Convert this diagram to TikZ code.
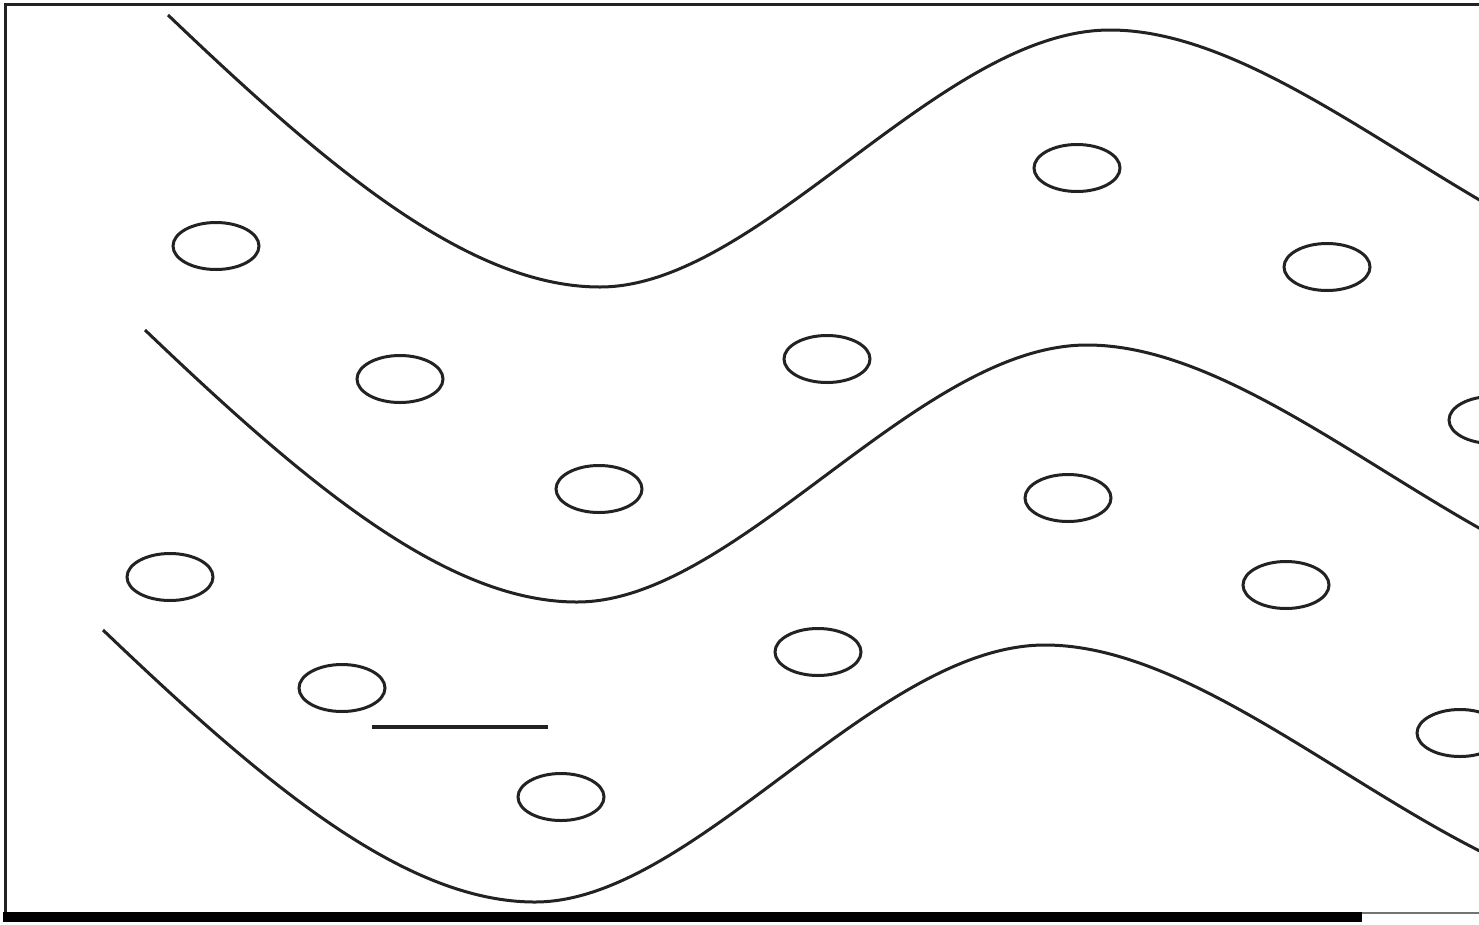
\documentclass[tikz,border=0pt]{standalone}
\usetikzlibrary{shapes.geometric}
\definecolor{ink}{HTML}{222222}
\tikzset{
  wave/.style={draw=ink, line width=3pt},
  hole/.style={draw=ink, line width=3pt, ellipse, inner sep=0pt, minimum width=86pt, minimum height=47pt},
  frameline/.style={draw=ink, line width=3pt},
}
\begin{document}
\begin{tikzpicture}[x=1pt,y=-1pt]
\useasboundingbox (0,0) rectangle (1479,924);
\fill[white] (0,0) rectangle (1479,924);
\begin{scope}
\clip (0,0) rectangle (1479,924);
% frame
\draw[frameline] (5,913) -- (5,4) -- (1485,4);
\draw[draw=black!55, line width=1.5pt] (5,913) -- (1485,913);
\fill[black] (3,912) rectangle (1362,922);
% waves
\foreach \dx/\dy in {0/0, -23/315, -65/615}{
  \draw[wave, shift={(\dx,\dy)}] (168,15)
    .. controls (330,170) and (470,287) .. (600,287)
    .. controls (760,287) and (940,30) .. (1110,30)
    .. controls (1300,30) and (1520,287) .. (1720,287);
}
% holes
\node[hole] (e1) at (216,246) {};
\node[hole] (e2) at (400,379) {};
\node[hole] (e3) at (599,489) {};
\node[hole] (e4) at (827,359) {};
\node[hole] (e5) at (1077,168) {};
\node[hole] (e6) at (1327,267) {};
\node[hole] (e7) at (1492,420) {};
\node[hole] (e8) at (1068,498) {};
\node[hole] (e9) at (1286,585) {};
\node[hole] (e10) at (170,577) {};
\node[hole] (e11) at (342,688) {};
\node[hole] (e12) at (818,652) {};
\node[hole] (e13) at (561,797) {};
\node[hole] (e14) at (1460,733) {};
% short line
\coordinate (l1) at (372,727);
\coordinate (l2) at (548,727);
\draw[draw=ink, line width=3.4pt] (l1) -- (l2);
\end{scope}
\end{tikzpicture}
\end{document}
